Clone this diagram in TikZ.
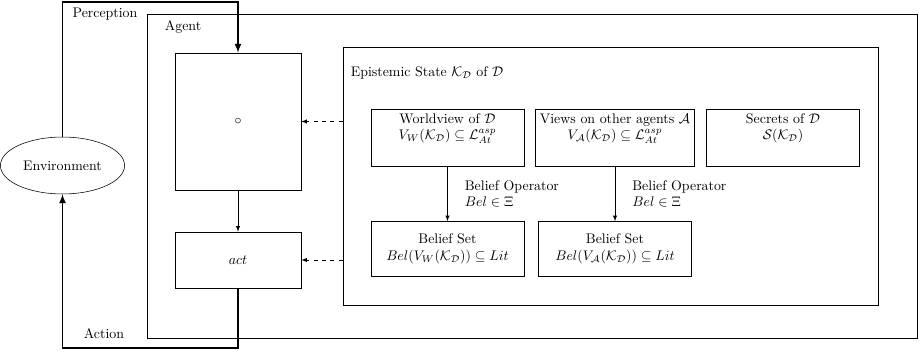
\documentclass[tikz,border=0pt]{standalone}
\usepackage{amsmath, amssymb}
\usepackage{tikz}
\usetikzlibrary{shapes.geometric, positioning}

\begin{document}
\begin{tikzpicture}[x=0.72pt, y=-0.72pt, >=latex,
    box/.style={draw, rectangle, align=center, minimum width=110pt, minimum height=39.6pt},
    module/.style={draw, rectangle, minimum width=90.7pt},
    frame/.style={draw, rectangle},
    flow/.style={->, very thick},
    link/.style={->, dashed}]
  \useasboundingbox (0,0) rectangle (920,352);

  % containers
  \node[frame, minimum width=554.4pt, minimum height=233.3pt] (agent) at (532,176) {};
  \node[right] (agentlbl) at (160,27) {Agent};
  \node[frame, minimum width=385.2pt, minimum height=185.8pt] (epist) at (610.5,176) {};
  \node[right] (epistlbl) at (346,73) {Epistemic State $\mathcal{K}_\mathcal{D}$ of $\mathcal{D}$};

  % environment and agent modules
  \node[draw, ellipse, minimum width=80pt, minimum height=41pt] (env) at (62.5,165.5) {Environment};
  \node[module, minimum height=98.6pt] (reason) at (238,121.5) {$\circ$};
  \node[module, minimum height=40.3pt] (act) at (238,260) {$act$};

  % epistemic state (empty last line keeps the text up top)
  \node[box] (wv) at (447.5,137.5) {Worldview of $\mathcal{D}$\\ $V_W(\mathcal{K}_\mathcal{D}) \subseteq \mathcal{L}^{asp}_{At}$\\ \strut};
  \node[box] (views) at (615,137.5) {Views on other agents $\mathcal{A}$\\ $V_\mathcal{A}(\mathcal{K}_\mathcal{D}) \subseteq \mathcal{L}^{asp}_{At}$\\ \strut};
  \node[box] (secrets) at (783,137.5) {Secrets of $\mathcal{D}$\\ $\mathcal{S}(\mathcal{K}_\mathcal{D})$\\ \strut};
  \node[box] (bsw) at (447.5,249) {Belief Set\\ $Bel(V_W(\mathcal{K}_\mathcal{D})) \subseteq Lit$};
  \node[box] (bsa) at (615,249) {Belief Set\\ $Bel(V_\mathcal{A}(\mathcal{K}_\mathcal{D})) \subseteq Lit$};

  \draw[->] (wv) -- node[right=9pt, align=left] {Belief Operator\\ $Bel \in \Xi$} (bsw);
  \draw[->] (views) -- node[right=9pt, align=left] {Belief Operator\\ $Bel \in \Xi$} (bsa);

  \draw[->] (reason) -- (act);
  \draw[link] (epist.west |- reason.east) -- (reason.east);
  \draw[link] (epist.west |- act.east) -- (act.east);

  % perception / action loop
  \draw[flow] (env.north) -- ++(0,-135) -| (reason.north);
  \draw[flow] (act.south) -- ++(0,60) -| (env.south);
  \node (perc) at (105,14) {Perception};
  \node (action) at (104,334) {Action};
\end{tikzpicture}
\end{document}
